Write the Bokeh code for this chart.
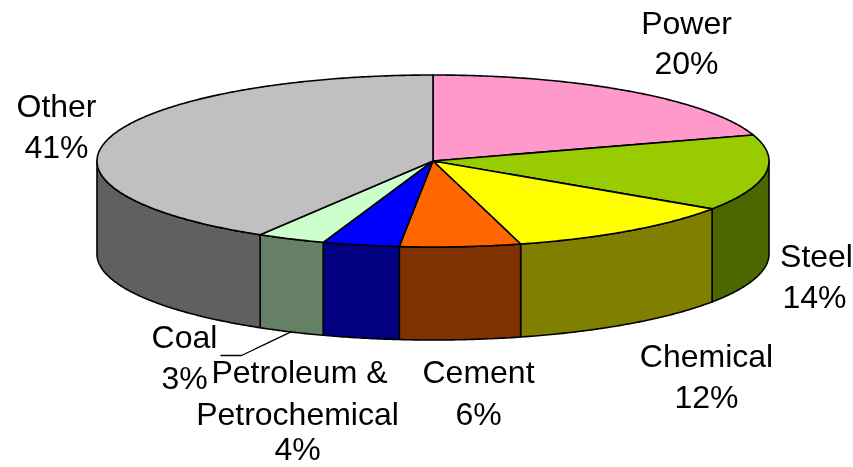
import math
from bokeh.plotting import figure
from bokeh.models import Range1d
from bokeh.core.properties import value
from bokeh.embed import file_html
from bokeh.resources import INLINE

# Data
categories = ["Power", "Steel", "Chemical", "Cement", "Petroleum & Petrochemical", "Coal", "Other"]
shares = [20.1, 14.3, 11.4, 5.8, 3.7, 3.3, 41.4]
percent_labels = ["20%", "14%", "12%", "6%", "4%", "3%", "41%"]
top_colors = ["#FF99CC", "#99CC00", "#FFFF00", "#FF6600", "#0000FF", "#CCFFCC", "#C0C0C0"]
side_colors = ["#804D66", "#4C6600", "#808000", "#803300", "#000080", "#668066", "#606060"]

# Geometry of the tilted pie (pixels)
CX, CY, RX, RY, DEPTH = 432.5, 160.5, 336.0, 86.0, 93.0


def rim(deg, drop=0.0):
    a = math.radians(deg)
    return CX + RX * math.sin(a), CY - RY * math.cos(a) + drop


def arc(a0, a1, drop=0.0):
    n = max(2, int(abs(a1 - a0) * 2))
    return [rim(a0 + (a1 - a0) * i / n, drop) for i in range(n + 1)]


p = figure(width=853, height=467, x_range=Range1d(0, 853), y_range=Range1d(467, 0),
           x_axis_location=None, y_axis_location=None, toolbar_location=None,
           output_backend="svg", min_border=0, outline_line_color=None,
           background_fill_color="white", border_fill_color="white")
p.grid.visible = False
p.styles = {"position": "fixed", "left": "0px", "top": "0px"}

# Slice boundaries as clock angles from the values
total = sum(shares)
edges = [0.0]
for s in shares:
    edges.append(edges[-1] + 360.0 * s / total)

# Side walls (only the front half of the rim is visible)
sx, sy, sc = [], [], []
for i in range(len(shares)):
    a0, a1 = max(edges[i], 90.0), min(edges[i + 1], 270.0)
    if a1 <= a0:
        continue
    pts = arc(a0, a1) + arc(a1, a0, DEPTH)
    sx.append([q[0] for q in pts])
    sy.append([q[1] for q in pts])
    sc.append(side_colors[i])
p.patches(sx, sy, fill_color=sc, line_color="black", line_width=1.6, line_join="round")

# Top face
tx, ty = [], []
for i in range(len(shares)):
    pts = [(CX, CY)] + arc(edges[i], edges[i + 1])
    tx.append([q[0] for q in pts])
    ty.append([q[1] for q in pts])
p.patches(tx, ty, fill_color=top_colors, line_color="black", line_width=1.6, line_join="round")

# Leader line of the Coal label
lead = rim(205.0, DEPTH)
p.line([220, 241, lead[0]], [355, 355, lead[1]], line_color="black", line_width=1.3)

# Labels: (text, centre x, centre y)
label_lines = [
    (categories[0], 686, 22), (percent_labels[0], 686, 62),
    (categories[6], 56, 105), (percent_labels[6], 56, 146),
    (categories[1], 816, 255), (percent_labels[1], 814, 296),
    (categories[2], 706, 355), (percent_labels[2], 706, 396),
    (categories[3], 478, 371), (percent_labels[3], 478, 413),
    ("Petroleum &", 299, 371), ("Petrochemical", 297, 413), (percent_labels[4], 297, 448),
    (categories[5], 184, 336), (percent_labels[5], 184, 377),
]
p.text([t[1] for t in label_lines], [t[2] for t in label_lines], text=[t[0] for t in label_lines],
       text_font=value("Liberation Sans"), text_font_size="32px", text_color="black",
       text_align="center", text_baseline="middle")

open("out.html", "w").write(file_html(p, INLINE))
